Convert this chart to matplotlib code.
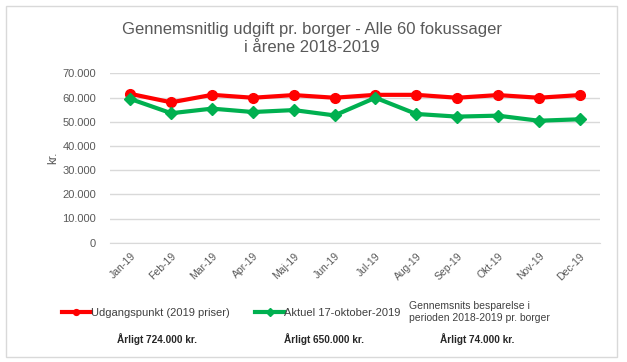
import matplotlib.pyplot as plt
from matplotlib.patches import Rectangle
from matplotlib.ticker import FuncFormatter, MultipleLocator

# data
months = ['Jan-19', 'Feb-19', 'Mar-19', 'Apr-19', 'Maj-19', 'Jun-19',
          'Jul-19', 'Aug-19', 'Sep-19', 'Okt-19', 'Nov-19', 'Dec-19']
udgangspunkt = [61500, 58000, 61100, 59900, 61000, 59900,
                61100, 61100, 59900, 61000, 59900, 61000]
aktuel = [59400, 53500, 55400, 54000, 54800, 52600,
          59900, 53200, 52100, 52500, 50400, 51000]

plt.rcParams['font.family'] = ['Liberation Sans', 'DejaVu Sans']

fig = plt.figure(figsize=(6.27, 3.62), dpi=100)
fig.patch.set_facecolor('white')
fig.patches.append(Rectangle((6 / 627, 5 / 362), 611 / 627, 351 / 362,
                             transform=fig.transFigure, fill=False,
                             edgecolor='#d9d9d9', linewidth=1))

ax = fig.add_axes([110 / 627, 119.3 / 362, 490 / 627, 169.4 / 362])
x = range(len(months))
ax.plot(x, udgangspunkt, color='#ff0000', lw=3, marker='o', ms=7,
        label='Udgangspunkt (2019 priser)', zorder=3)
ax.plot(x, aktuel, color='#00b050', lw=3, marker='D', ms=6.5,
        label='Aktuel 17-oktober-2019', zorder=3)

ax.set_xlim(-0.5, len(months) - 0.5)
ax.set_ylim(0, 70000)
ax.yaxis.set_major_locator(MultipleLocator(10000))
ax.yaxis.set_major_formatter(FuncFormatter(lambda v, p: f'{int(v):,}'.replace(',', '.')))
ax.grid(axis='y', color='#d9d9d9', lw=1)
ax.set_axisbelow(True)
for s in ['top', 'right', 'left']:
    ax.spines[s].set_visible(False)
ax.spines['bottom'].set_color('#d9d9d9')
ax.tick_params(length=0, colors='#595959', labelsize=8)
ax.tick_params(axis='y', pad=10)
ax.tick_params(axis='x', pad=6, labelsize=7.5)
ax.set_xticks(list(x))
ax.set_xticklabels(months, rotation=45, ha='right', rotation_mode='anchor')
ax.set_ylabel('kr.', color='#595959', fontsize=8.5, labelpad=2)

fig.text(0.497, 1 - 38.5 / 362, 'Gennemsnitlig udgift pr. borger - Alle 60 fokussager\ni årene 2018-2019',
         ha='center', va='center', fontsize=12, color='#595959', linespacing=1.3)

leg = fig.legend(loc='center left', bbox_to_anchor=(62 / 627, 1 - 313 / 362), ncol=2,
                 frameon=False, fontsize=8, handlelength=2.6, handletextpad=0.0,
                 columnspacing=2.3, labelcolor='#404040', markerscale=0.6,
                 borderpad=0, borderaxespad=0)

fig.text(409 / 627, 1 - 312 / 362, 'Gennemsnits besparelse i\nperioden 2018-2019 pr. borger',
         ha='left', va='center', fontsize=7.5, color='#404040', linespacing=1.15)
for xc, t in [(157, 'Årligt 724.000 kr.'), (324, 'Årligt 650.000 kr.'), (477, 'Årligt 74.000 kr.')]:
    fig.text(xc / 627, 1 - 339 / 362, t, ha='center', va='center', fontsize=7.2,
             color='#262626', weight='bold')

fig.savefig('out.png', dpi=100)
